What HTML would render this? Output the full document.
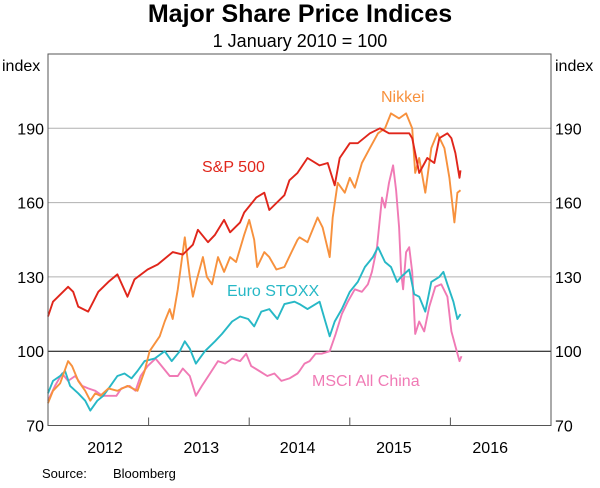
<!DOCTYPE html>
<html><head><meta charset="utf-8"><style>
body{margin:0;background:#fff;width:600px;height:483px;overflow:hidden;font-family:"Liberation Sans",Arial,sans-serif}
svg text{font-family:"Liberation Sans",Arial,sans-serif}
</style></head><body>
<svg id="chart" width="600" height="483" viewBox="0 0 600 483" xmlns="http://www.w3.org/2000/svg">
<text x="300" y="22" text-anchor="middle" font-size="25" font-weight="bold">Major Share Price Indices</text>
<text x="300" y="47" text-anchor="middle" font-size="18">1 January 2010 = 100</text>
<text x="2" y="71" font-size="16">index</text>
<text x="555" y="71" font-size="16">index</text>
<g id="grid"></g>
<g id="series"></g>
<g id="labels">
<text x="202" y="172" font-size="16" fill="#e0261b">S&amp;P 500</text>
<text x="381" y="102" font-size="16" fill="#f7913d">Nikkei</text>
<text x="227" y="296" font-size="16" fill="#27b8c6">Euro STOXX</text>
<text x="312" y="386" font-size="16" fill="#f07ab5">MSCI All China</text>
</g>
<rect x="48" y="54" width="503" height="371.5" fill="none" stroke="#555" stroke-width="1"/>
<text x="42" y="478" font-size="13">Source:</text>
<text x="113" y="478" font-size="13">Bloomberg</text>
</svg>
<script>
const yTicks=[70,100,130,160,190];
const yearLabels=["2012","2013","2014","2015","2016"];
const spT=[0,.05,.10,.20,.25,.30,.40,.45,.50,.60,.69,.79,.86,.99,1.09,1.24,1.34,1.44,1.49,1.59,1.66,1.75,1.81,1.91,1.95,2.03,2.07,2.15,2.20,2.35,2.40,2.48,2.58,2.70,2.78,2.85,2.90,3.00,3.08,3.20,3.30,3.39,3.49,3.59,3.62,3.69,3.77,3.84,3.89,3.97,4.01,4.05,4.09,4.10];
const spV=[114,120,122,126,124,118,116,120,124,128,131,122,129,133,135,140,139,143,149,144,147,153,148,152,156,160,162,164,157,163,169,172,178,175,176,167,178,184,184,188,190,188,188,188,186,172,178,176,186,188,186,180,170,173];
const nkT=[0,.05,.12,.20,.24,.30,.37,.42,.47,.52,.60,.69,.79,.89,.96,1.01,1.11,1.16,1.21,1.24,1.29,1.36,1.41,1.44,1.48,1.54,1.58,1.63,1.69,1.75,1.81,1.87,1.95,2.00,2.05,2.08,2.15,2.20,2.27,2.35,2.42,2.48,2.50,2.58,2.68,2.73,2.80,2.83,2.88,2.95,3.00,3.05,3.12,3.20,3.28,3.35,3.41,3.49,3.56,3.62,3.65,3.69,3.75,3.81,3.87,3.94,3.99,4.04,4.07,4.10];
const nkV=[79,84,87,96,94,88,84,80,83,82,85,84,86,84,92,100,106,112,117,113,125,146,130,122,129,138,130,127,138,132,138,136,147,153,145,134,140,138,133,134,140,145,146,144,154,150,138,154,168,164,170,166,176,182,188,190,196,194,196,190,172,178,164,182,188,182,170,152,164,165];
const euT=[0,.05,.12,.17,.22,.30,.37,.42,.49,.55,.62,.69,.76,.83,.89,.96,1.06,1.16,1.23,1.31,1.36,1.41,1.47,1.56,1.66,1.73,1.83,1.91,1.99,2.05,2.12,2.20,2.28,2.35,2.45,2.50,2.58,2.70,2.75,2.80,2.85,2.92,3.00,3.08,3.15,3.23,3.28,3.35,3.41,3.47,3.51,3.59,3.64,3.69,3.75,3.81,3.89,3.93,3.97,4.03,4.07,4.10];
const euV=[83,88,90,92,86,83,80,76,80,82,86,90,91,89,92,96,97,100,96,100,104,101,95,100,104,107,112,114,113,110,116,117,113,119,120,119,117,120,113,106,112,117,124,128,134,138,142,136,134,128,130,133,123,122,116,128,130,132,127,120,113,115];
const chT=[0,.07,.14,.20,.27,.34,.40,.47,.54,.62,.68,.73,.81,.87,.92,.99,1.07,1.13,1.21,1.29,1.34,1.41,1.47,1.53,1.61,1.69,1.76,1.83,1.91,1.97,2.02,2.10,2.18,2.25,2.32,2.40,2.48,2.50,2.55,2.60,2.66,2.72,2.80,2.86,2.92,2.98,3.05,3.12,3.18,3.22,3.27,3.32,3.35,3.39,3.43,3.46,3.49,3.51,3.53,3.56,3.59,3.62,3.65,3.69,3.74,3.79,3.85,3.91,3.97,4.01,4.05,4.09,4.11];
const chV=[80,86,91,88,90,86,85,84,82,82,82,85,86,84,90,94,97,94,90,90,93,90,82,86,91,96,95,97,96,99,94,92,90,91,88,89,91,92,95,96,99,99,100,107,115,120,125,124,127,132,142,162,158,168,175,165,150,132,125,140,142,132,107,112,108,118,126,127,122,108,102,96,98];
const NS="http://www.w3.org/2000/svg";
const X0=48,X1=551,Y0=425.5,Y1=54;
function xs(t){return X0+t*(X1-X0)/5;}
function ys(v){return Y0-(v-70)*(Y0-Y1)/150;}
const grid=document.getElementById('grid');
yTicks.forEach(v=>{
 if(v===70)return;
 const l=document.createElementNS(NS,'line');
 
 
 l.setAttribute('x1',X0);l.setAttribute('x2',X1);l.setAttribute('y1',ys(v));l.setAttribute('y2',ys(v));
 l.setAttribute('stroke',v===100?'#000':'#b0b0b0');l.setAttribute('stroke-width','1');
 grid.appendChild(l);
});
yTicks.forEach(v=>{
 ['left','right'].forEach(s=>{
  const t=document.createElementNS(NS,'text');
  
  
  t.setAttribute('x',s==='left'?44:555);t.setAttribute('y',ys(v)+6);
  t.setAttribute('text-anchor',s==='left'?'end':'start');t.setAttribute('font-size','16');
  t.textContent=v;grid.appendChild(t);
 });
});
yearLabels.forEach((y,i)=>{
 const t=document.createElementNS(NS,'text');
 
 
 t.setAttribute('x',105+i*96.3);t.setAttribute('y',453);t.setAttribute('text-anchor','middle');t.setAttribute('font-size','16');
 t.textContent=y;grid.appendChild(t);
 if(i>0){
  const l=document.createElementNS(NS,'line');
  
  
  l.setAttribute('x1',xs(i));l.setAttribute('x2',xs(i));l.setAttribute('y1',Y0);l.setAttribute('y2',Y0-8);
  l.setAttribute('stroke','#555');grid.appendChild(l);
 }
});
const ser=document.getElementById('series');
function draw(T,V,col,name){
 const p=document.createElementNS(NS,'path');
 
 
 p.setAttribute('d',T.map((t,i)=>(i?'L':'M')+xs(t).toFixed(1)+','+ys(V[i]).toFixed(1)).join(''));
 p.setAttribute('fill','none');p.setAttribute('stroke',col);p.setAttribute('stroke-width','1.9');p.setAttribute('stroke-linejoin','round');
 ser.appendChild(p);
}
draw(chT,chV,'#f07ab5','msci-china-line');
draw(euT,euV,'#27b8c6','euro-stoxx-line');
draw(nkT,nkV,'#f7913d','nikkei-line');
draw(spT,spV,'#e0261b','sp500-line');
</script>
</body></html>
